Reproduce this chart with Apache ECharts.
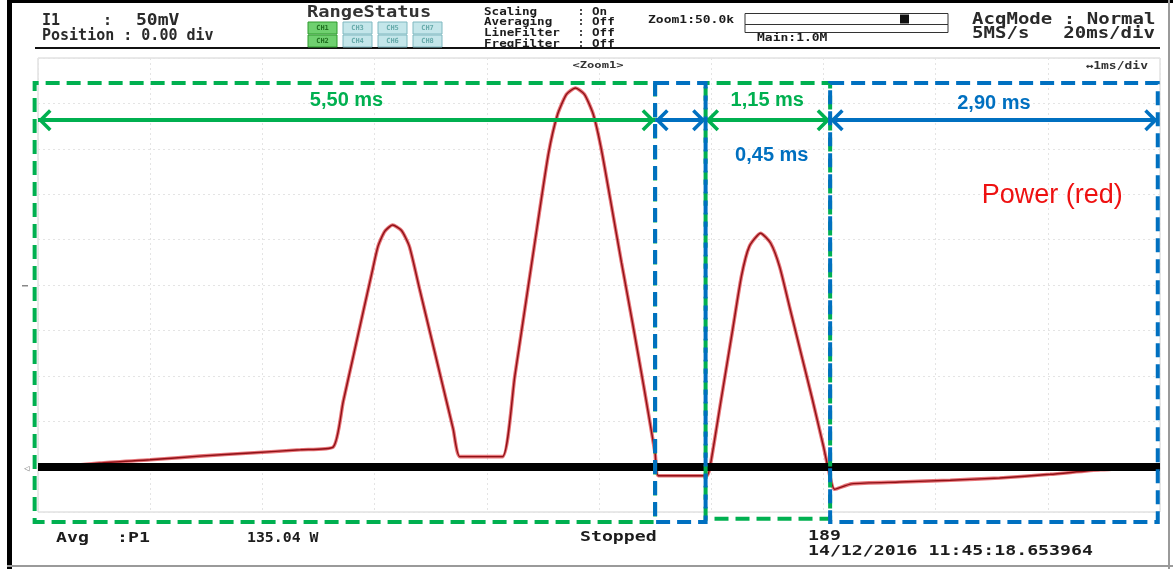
<!DOCTYPE html>
<html><head><meta charset="utf-8">
<script src="https://cdn.jsdelivr.net/npm/echarts@6/dist/echarts.min.js"></script>
<style>html,body{margin:0;padding:0;background:#fff}#c{width:1173px;height:569px}</style>
</head><body><div id="c"></div>
<script>
// ---- data (time in ms, power in screen divisions above the zero line) ----
const timeMs = [0, 0.55, 1.0, 1.44, 1.89, 2.34, 2.63,
  2.72, 2.81, 2.90, 2.97, 3.03, 3.09, 3.16, 3.24, 3.31, 3.40, 3.50, 3.60, 3.70, 3.76,
  3.95, 4.14,
  4.25, 4.35, 4.45, 4.55, 4.63, 4.71, 4.79, 4.87, 4.95, 5.02, 5.10, 5.20, 5.30, 5.40, 5.50,
  5.53, 5.75, 5.96,
  5.99, 6.09, 6.19, 6.27, 6.34, 6.44, 6.53, 6.61, 6.70, 6.80, 6.90, 7.00, 7.04,
  7.10, 7.25, 7.68, 8.13, 8.57, 9.02, 9.47, 10.0];
const powerDiv = [-0.05, 0.08, 0.15, 0.23, 0.30, 0.37, 0.43,
  1.43, 2.43, 3.43, 4.20, 4.85, 5.18, 5.32, 5.20, 4.85, 3.92, 2.89, 1.86, 0.83, 0.22,
  0.22, 0.22,
  2.00, 3.65, 5.30, 6.90, 7.75, 8.20, 8.34, 8.20, 7.75, 7.00, 5.90, 4.50, 3.15, 1.75, 0.30,
  -0.20, -0.20, -0.20,
  0.00, 1.50, 3.00, 4.20, 4.85, 5.14, 4.92, 4.40, 3.50, 2.50, 1.50, 0.45, 0.00,
  -0.50, -0.38, -0.34, -0.30, -0.25, -0.17, -0.07, 0.00];

const segmentStart = [0, 5.50, 5.95, 7.06];
const segmentEnd = [5.50, 5.95, 7.06, 9.98];
const segmentLabels = ['5,50 ms', '0,45 ms', '1,15 ms', '2,90 ms'];
const segmentLabelT = [2.75, 6.54, 6.50, 8.52];
const segmentLabelV = [8.06, 6.86, 8.06, 8.00];
const boxLeft = [-0.03, 5.50, 5.95, 7.06];
const boxRight = [5.50, 5.95, 7.06, 9.98];
const boxBottom = [-1.22, -1.22, -1.15, -1.22];
const boxTop = 8.45;
const arrowLevel = 7.63;
const zeroLevel = 0;

const GREEN = '#00b050', BLUE = '#0070c0';
const segColor = [GREEN, BLUE, GREEN, BLUE];
const chevron = 'path://M0,0 L11,11 L8.5,13.5 L0,5 L-8.5,13.5 L-11,11 Z M0,-13.5 L0.01,-13.5 L0,-13.49 Z';

function boxSeries(color, offset) {
  const idx = [0, 1, 2, 3].filter(i => segColor[i] === color);
  return {
    type: 'custom', clip: false, silent: true, z: color === BLUE ? 6 : 5,
    data: idx.map(i => [boxLeft[i], boxRight[i], boxTop, boxBottom[i]]),
    renderItem: function (params, api) {
      const p1 = api.coord([api.value(0), api.value(2)]);
      const p2 = api.coord([api.value(1), api.value(3)]);
      return { type: 'rect', shape: { x: p1[0], y: p1[1], width: p2[0] - p1[0], height: p2[1] - p1[1] },
        style: { fill: 'none', stroke: color, lineWidth: 4, lineDash: [14, 7], lineDashOffset: offset } };
    }
  };
}

function annotSeries(color) {
  const idx = [0, 1, 2, 3].filter(i => segColor[i] === color);
  return {
    type: 'line', data: [], z: color === BLUE ? 8 : 7, silent: true,
    markLine: {
      silent: true, symbol: [chevron, chevron], symbolSize: [22, 27],
      lineStyle: { color: color, width: 4, type: 'solid' },
      label: { show: false },
      data: idx.map(i => [{ coord: [segmentStart[i], arrowLevel] }, { coord: [segmentEnd[i], arrowLevel] }])
    },
    markPoint: {
      silent: true, symbol: 'circle', symbolSize: 1, itemStyle: { color: 'rgba(0,0,0,0)' },
      label: { show: true, position: 'inside', formatter: '{b}', color: color, fontSize: 20, fontWeight: 'bold', fontFamily: 'Liberation Sans' },
      data: idx.map(i => ({ name: segmentLabels[i], coord: [segmentLabelT[i], segmentLabelV[i]] }))
    }
  };
}

const MONO = 'DejaVu Sans Mono';
function T(x, y, text, size, opt) {
  opt = opt || {};
  return {
    type: 'text', x: x, y: y, scaleX: opt.sx || 1, z: 20, silent: true,
    style: { text: text, fill: opt.color || '#1c1c1c', font: (opt.weight || 'bold') + ' ' + size + 'px "' + (opt.family || MONO) + '"',
      textAlign: opt.align || 'left', textVerticalAlign: 'middle' }
  };
}
function R(x, y, w, h, fill, stroke, lw) {
  return { type: 'rect', z: 19, silent: true, shape: { x: x, y: y, width: w, height: h },
    style: { fill: fill || 'none', stroke: stroke || null, lineWidth: lw || 1 } };
}

const graphics = [
  // frame
  R(7, 0, 5, 569, '#000'),
  R(7, 0, 1166, 3, '#000'),
  R(1168, 0, 2, 569, '#9a9a9a'),
  R(7, 565, 1166, 2, '#9a9a9a'),
  R(35, 47, 1125, 2, '#111'),
  // header left
  T(42, 21, 'I1', 15, { color: '#2a2a2a' }),
  T(103, 21, ':', 15, { color: '#2a2a2a' }),
  T(136, 21, '50mV', 15, { sx: 1.2, color: '#2a2a2a' }),
  T(42, 36, 'Position : 0.00 div', 15, { color: '#2a2a2a' }),
  // range status
  T(307, 13, 'RangeStatus', 15, { sx: 1.25, color: '#333' }),
  // right status block
  T(484, 12, 'Scaling', 10, { sx: 1.26 }), T(578, 12, ':', 10), T(592, 12, 'On', 10, { sx: 1.26 }),
  T(484, 22.5, 'Averaging', 10, { sx: 1.26 }), T(578, 22.5, ':', 10), T(592, 22.5, 'Off', 10, { sx: 1.26 }),
  T(484, 33, 'LineFilter', 10, { sx: 1.26 }), T(578, 33, ':', 10), T(592, 33, 'Off', 10, { sx: 1.26 }),
  T(484, 44, 'FreqFilter', 10, { sx: 1.26 }), T(578, 44, ':', 10), T(592, 44, 'Off', 10, { sx: 1.26 }),
  T(648, 20, 'Zoom1:50.0k', 10, { sx: 1.3 }),
  R(745, 13.5, 203, 11, '#fff', '#333', 1),
  R(745, 24.5, 203, 8, '#fff', '#333', 1),
  R(900, 14.5, 9, 9, '#111'),
  T(757, 38, 'Main:1.0M', 10, { sx: 1.3 }),
  T(972, 20, 'AcqMode : Normal', 15, { sx: 1.27, color: '#2a2a2a' }),
  T(972, 34, '5MS/s', 15, { sx: 1.27, color: '#2a2a2a' }),
  T(1155, 34, '20ms/div', 15, { sx: 1.27, align: 'right', color: '#2a2a2a' }),
  // plot header
  T(598, 66, '<Zoom1>', 9, { sx: 1.35, align: 'center', color: '#333' }),
  T(1148, 66, '\u21941ms/div', 10, { sx: 1.3, align: 'right', color: '#333' }),
  // footer
  T(56, 538, 'Avg', 14, { sx: 1.3 }),
  T(117, 538, ':P1', 14, { sx: 1.3 }),
  T(247, 538, '135.04 W', 14, { sx: 1.06 }),
  T(580, 537, 'Stopped', 14, { sx: 1.3 }),
  T(808, 536, '189', 14, { sx: 1.3 }),
  T(808, 551, '14/12/2016 11:45:18.653964', 14, { sx: 1.3 }),
  // ground marker
  T(24, 469, '\u25C1', 9, { color: '#888' }),
  R(22, 285, 6, 1.5, '#888')
];
// range status channel boxes
const chCols = [308, 343, 378, 413];
const chRows = [22, 35];
const chNames = [['CH1', 'CH3', 'CH5', 'CH7'], ['CH2', 'CH4', 'CH6', 'CH8']];
chRows.forEach((ry, r) => chCols.forEach((cx, c) => {
  const g = c === 0;
  graphics.push(R(cx, ry, 29, 12, g ? '#6fd06f' : '#c4e6ea', g ? '#2e9a2e' : '#7fb8c0', 1));
  graphics.push(T(cx + 14.5, ry + 6, chNames[r][c], 7, { align: 'center', color: g ? '#1f6f1f' : '#6aa' }));
}));

const traceData = timeMs.map((t, i) => [t, powerDiv[i]]);

const chart = echarts.init(document.getElementById('c'), null, { renderer: 'canvas' });
chart.setOption({
  animation: false,
  backgroundColor: '#fff',
  grid: { left: 38, right: 13, top: 58, bottom: 57, show: true, borderColor: '#d2d2d2', borderWidth: 1 },
  xAxis: { type: 'value', min: 0, max: 10, interval: 1,
    axisLine: { show: false }, axisTick: { show: false }, axisLabel: { show: false },
    splitLine: { show: true, lineStyle: { color: '#e4e4e4', type: [2, 3], width: 1 } } },
  yAxis: { type: 'value', min: -1, max: 9, interval: 1,
    axisLine: { show: false }, axisTick: { show: false }, axisLabel: { show: false },
    splitLine: { show: true, lineStyle: { color: '#e4e4e4', type: [2, 3], width: 1 } } },
  series: [
    { name: 'PowerBand', type: 'line', showSymbol: false, z: 2, clip: false, smooth: 0.2, silent: true,
      lineStyle: { color: 'rgba(214,24,30,0.6)', width: 3.6 },
      data: traceData },
    { name: 'Power', type: 'line', showSymbol: false, z: 3, clip: false, smooth: 0.2,
      lineStyle: { color: '#8f1016', width: 1.4 },
      data: traceData,
      markLine: { silent: true, symbol: 'none', label: { show: false },
        lineStyle: { color: '#000', width: 8, type: 'solid' },
        data: [{ yAxis: zeroLevel }] },
      markPoint: { silent: true, symbol: 'circle', symbolSize: 1, itemStyle: { color: 'rgba(0,0,0,0)' },
        label: { show: true, position: 'inside', formatter: '{b}', color: '#ee1111', fontSize: 27, fontFamily: 'Liberation Sans' },
        data: [{ name: 'Power (red)', coord: [9.04, 5.96] }] }
    },
    boxSeries(GREEN, 10),
    boxSeries(BLUE, 0),
    annotSeries(GREEN),
    annotSeries(BLUE)
  ],
  graphic: graphics
});
</script></body></html>
